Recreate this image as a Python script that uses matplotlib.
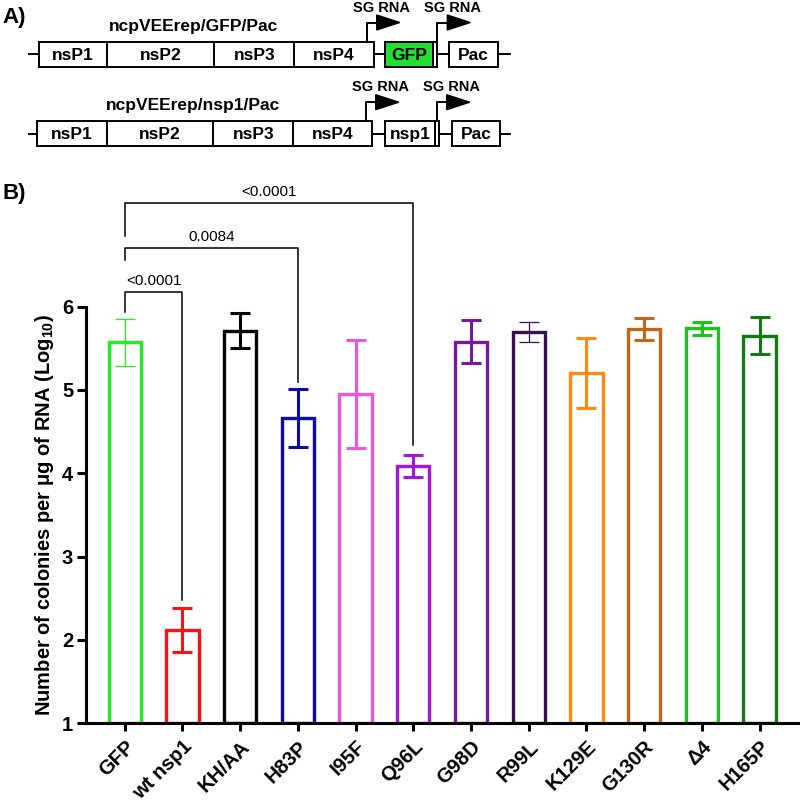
import numpy as np
import matplotlib.pyplot as plt
from matplotlib.patches import Rectangle, Polygon

plt.rcParams['font.family'] = ['Liberation Sans', 'DejaVu Sans']
plt.rcParams['mathtext.fontset'] = 'custom'
plt.rcParams['mathtext.rm'] = 'Liberation Sans'
plt.rcParams['mathtext.bf'] = 'Liberation Sans:bold'

# ---- panel B data (log10 colonies per ug RNA) ----
groups = ['GFP', 'wt nsp1', 'KH/AA', 'H83P', 'I95F', 'Q96L',
          'G98D', 'R99L', 'K129E', 'G130R', '\u03944', 'H165P']
means = [5.57, 2.12, 5.71, 4.66, 4.95, 4.09, 5.58, 5.70, 5.20, 5.73, 5.74, 5.65]
errs = [0.28, 0.26, 0.21, 0.35, 0.65, 0.13, 0.26, 0.12, 0.42, 0.13, 0.08, 0.22]
colors = ['#1ef01e', '#ff1010', '#000000', '#0a0ab4', '#ee55dd', '#a514e0',
          '#7a14a8', '#34104f', '#ff8a10', '#c0661a', '#14c814', '#127a12']
thin_err = ['GFP', 'R99L']

# significance brackets: (from, to, p value)
comparisons = [(0, 1, '<0.0001'), (0, 3, '0.0084'), (0, 5, '<0.0001')]
bracket_top = [6.17, 6.70, 7.24]
left_leg_end = [5.94, 6.56, 6.85]
right_leg_end = [2.48, 5.10, 4.34]

# ---- panel A schematic ----
row1_boxes = [(39, 107.3, 'nsP1', 'white'), (107.3, 214.3, 'nsP2', 'white'),
              (214.3, 294.3, 'nsP3', 'white'), (294.3, 374, 'nsP4', 'white'),
              (385, 432.7, 'GFP', '#22dd33'), (432.7, 437.3, '', 'white'),
              (449.3, 497.7, 'Pac', 'white')]
row2_boxes = [(37.3, 106.7, 'nsP1', 'white'), (106.7, 213.3, 'nsP2', 'white'),
              (213.3, 293.3, 'nsP3', 'white'), (293.3, 372.3, 'nsP4', 'white'),
              (385, 435, 'nsp1', 'white'), (435, 439.3, '', 'white'),
              (451.7, 500, 'Pac', 'white')]
row1_links = [(29, 39), (374, 385), (437.3, 449.3), (497.7, 510)]
row2_links = [(29, 37.3), (372.3, 385), (439.3, 451.7), (500, 510)]
rows = [(54, row1_boxes, row1_links, 'ncpVEErep/GFP/Pac', [366.7, 437.3]),
        (133.7, row2_boxes, row2_links, 'ncpVEErep/nsp1/Pac', [365.7, 436.7])]

fig = plt.figure(figsize=(8, 8.06), dpi=100)

# schematic drawn in pixel coordinates
ax0 = fig.add_axes([0, 0, 1, 1])
ax0.set_xlim(0, 800)
ax0.set_ylim(806, 0)
ax0.axis('off')
hh = 12.5
for yc, boxes, links, title, arrows_x in rows:
    for x0, x1 in links:
        ax0.plot([x0, x1], [yc, yc], color='black', lw=1.4)
    for x0, x1, lab, fc in boxes:
        ax0.add_patch(Rectangle((x0, yc - hh), x1 - x0, 2 * hh, facecolor=fc,
                                edgecolor='black', lw=1.4))
        if lab:
            ax0.text((x0 + x1) / 2, yc + 1, lab, ha='center', va='center',
                     fontsize=12.5, fontweight='bold')
    ax0.text(193, yc - 28, title, ha='center', va='center', fontsize=12.5,
             fontweight='bold')
    for ax_x in arrows_x:
        ytop = yc - hh - 19
        ax0.plot([ax_x, ax_x, ax_x + 11], [yc - hh, ytop, ytop], color='black', lw=1.4)
        ax0.add_patch(Polygon([(ax_x + 10, ytop - 7.5), (ax_x + 10, ytop + 7.5),
                               (ax_x + 33, ytop)], closed=True, color='black'))
        ax0.text(ax_x + 15, ytop - 15, 'SG RNA', ha='center', va='center',
                 fontsize=10.5, fontweight='bold')

ax0.text(2, 18, 'A)', ha='left', va='center', fontsize=16, fontweight='bold')
ax0.text(2, 193, 'B)', ha='left', va='center', fontsize=16, fontweight='bold')

# bar chart
ax = fig.add_axes([0.108, 0.1026, 0.892, 0.517])
ax.patch.set_alpha(0)
x = np.arange(len(groups))
ax.bar(x, np.array(means) - 1, bottom=1, width=0.56, facecolor='none',
       edgecolor=colors, linewidth=2.4, zorder=2)
for i, g in enumerate(groups):
    lw = 0.9 if g in thin_err else 2.2
    ax.errorbar(x[i], means[i], yerr=errs[i], color=colors[i], elinewidth=lw,
                capthick=lw, capsize=7, fmt='none', zorder=3)

for k, (i, j, p) in enumerate(comparisons):
    ax.plot([x[i], x[i], x[j], x[j]],
            [left_leg_end[k], bracket_top[k], bracket_top[k], right_leg_end[k]],
            color='black', lw=1.1, clip_on=False)
    ax.text((x[i] + x[j]) / 2, bracket_top[k] + 0.05, p, ha='center',
            va='bottom', fontsize=11)

ax.set_ylim(1, 6)
ax.set_xlim(-0.665, 11.70)
ax.set_yticks([1, 2, 3, 4, 5, 6])
ax.set_xticks(x)
ax.set_xticklabels(groups, rotation=45, ha='right', rotation_mode='anchor')
for lab in ax.get_xticklabels() + ax.get_yticklabels():
    lab.set_fontweight('bold')
    lab.set_fontsize(14.5)
ax.tick_params(axis='y', length=6.5, width=2.2, pad=3)
ax.tick_params(axis='x', length=6, width=2.2, pad=4)
for s in ['top', 'right']:
    ax.spines[s].set_visible(False)
for s in ['left', 'bottom']:
    ax.spines[s].set_linewidth(2.2)
ax.set_ylabel('Number of colonies per \u03bcg of RNA (Log$_{\\mathbf{10}}$)',
              fontsize=14.5, fontweight='bold', labelpad=4)

fig.savefig('out.png', dpi=100)
